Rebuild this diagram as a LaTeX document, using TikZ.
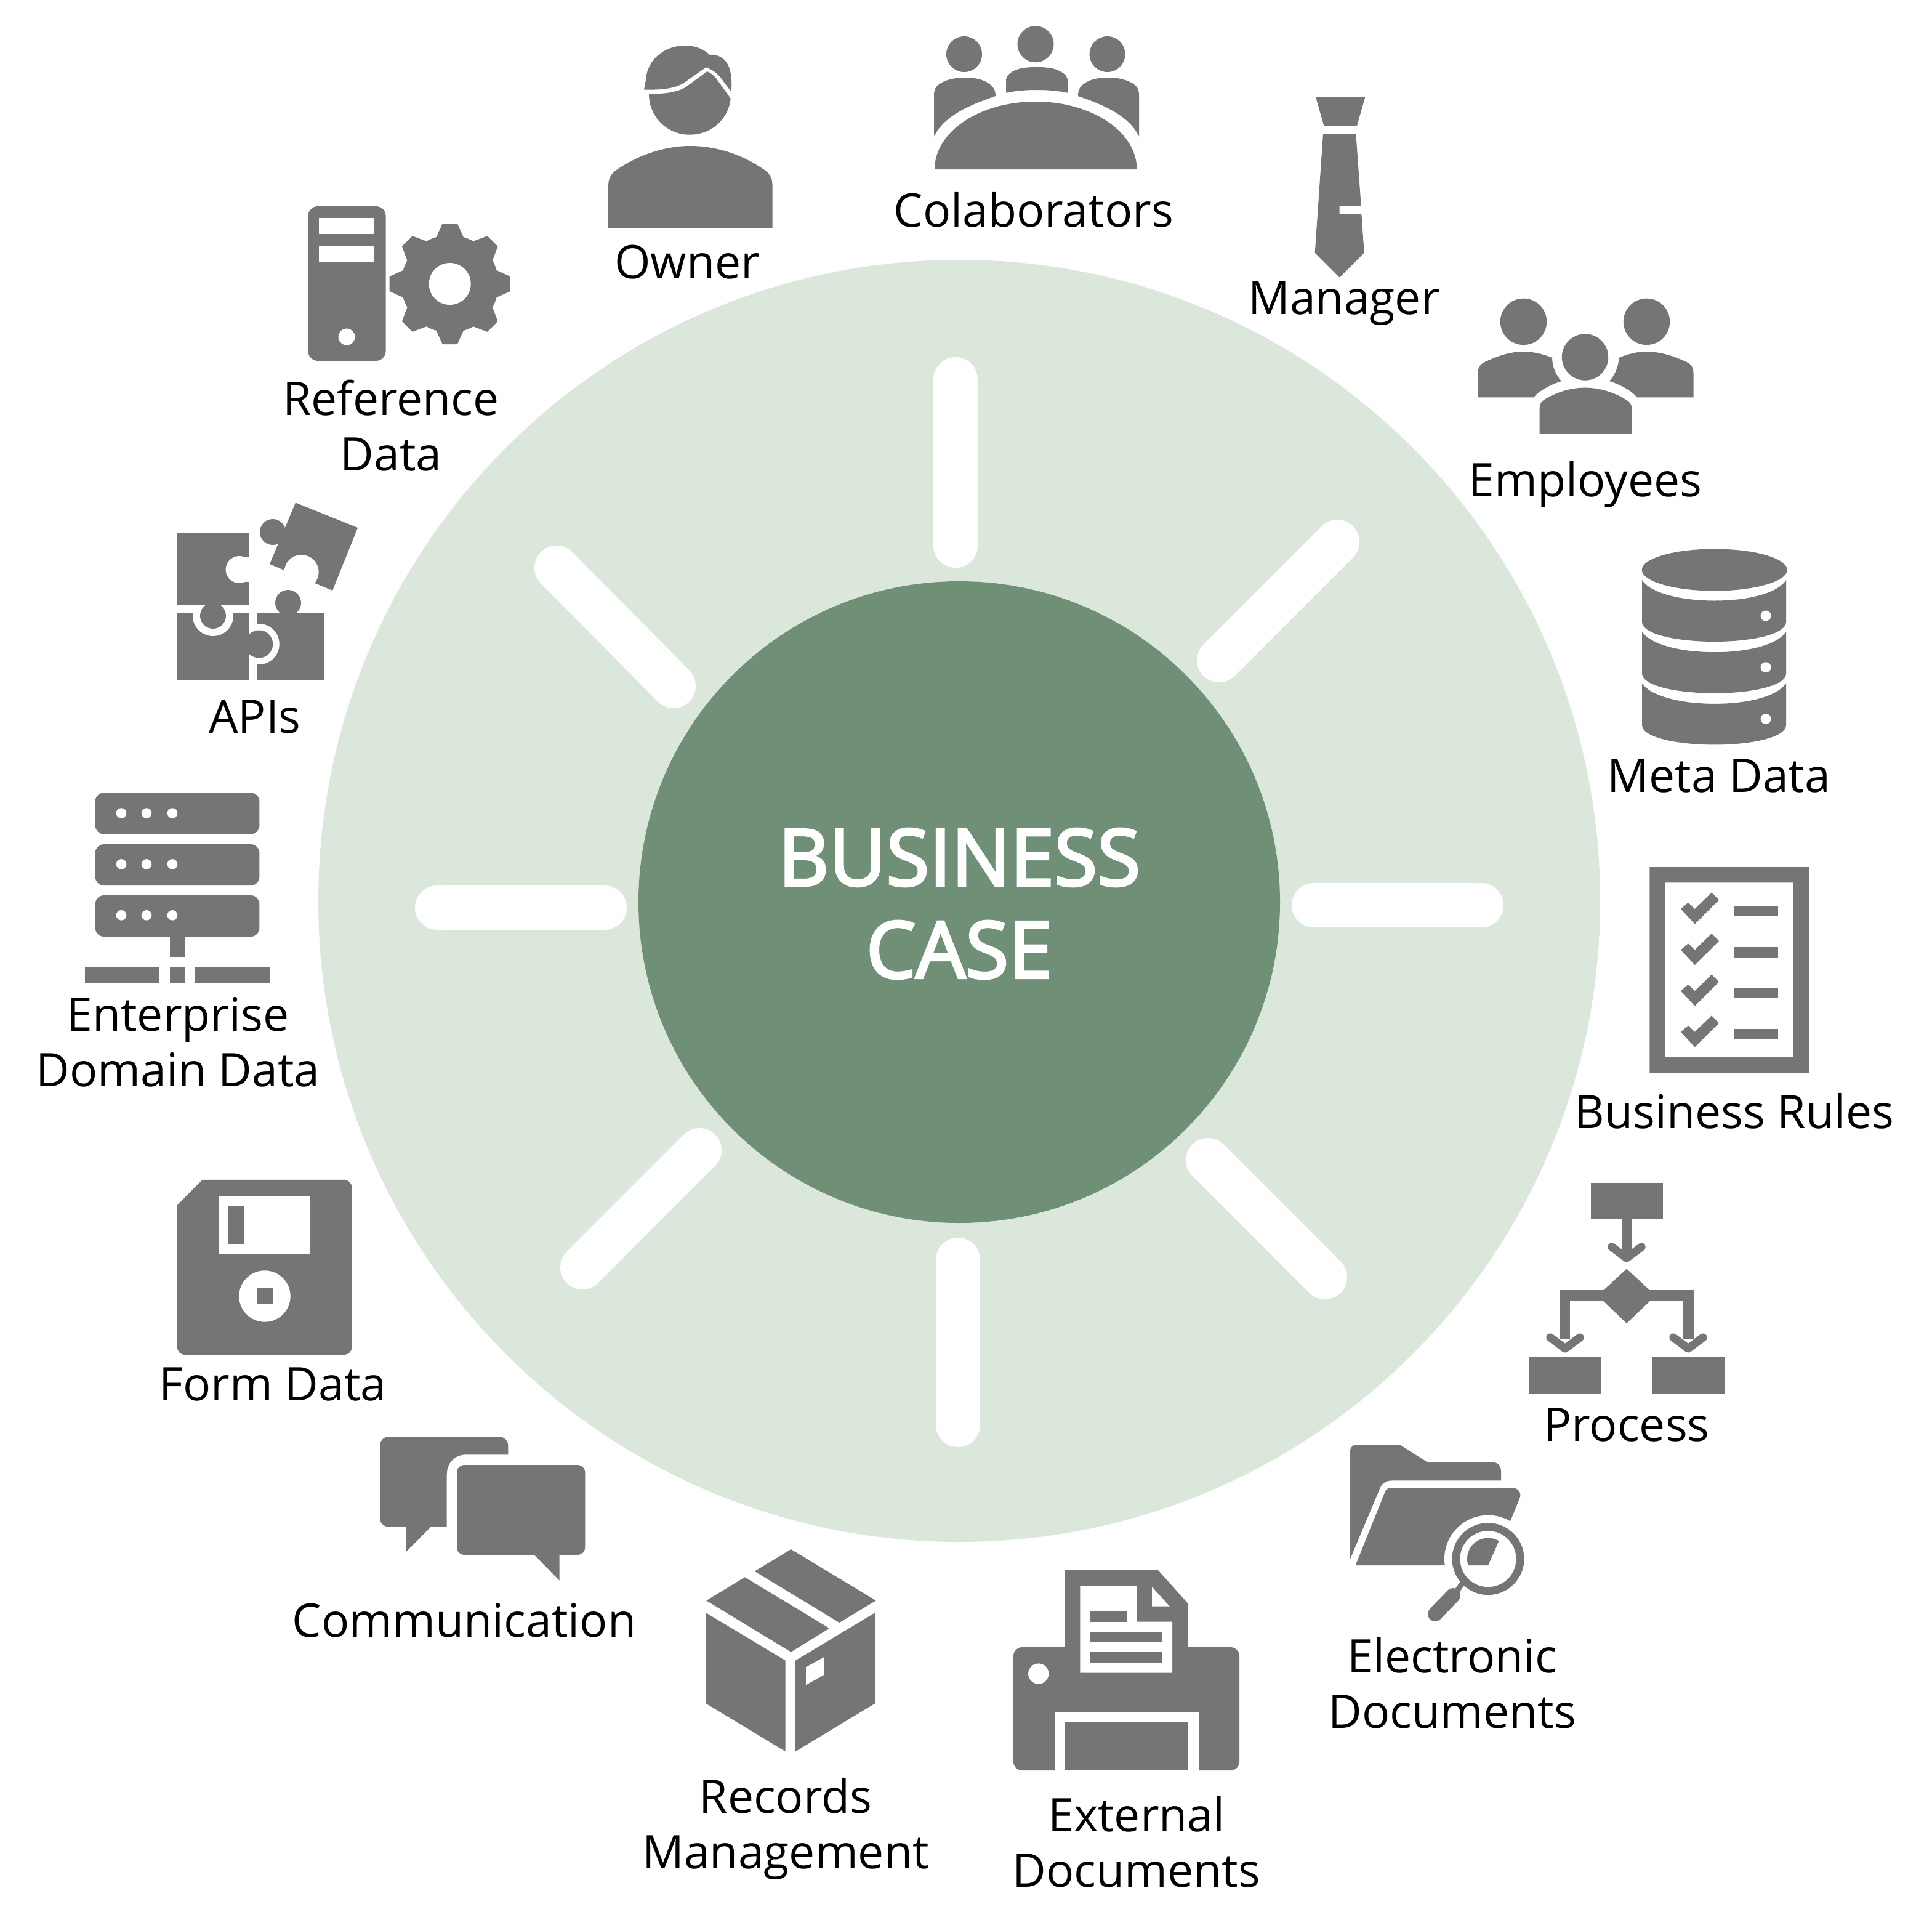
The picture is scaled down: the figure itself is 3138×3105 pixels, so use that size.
\documentclass[tikz,border=0pt]{standalone}
\usepackage{fontspec}
\setmainfont{Open Sans}
\newfontfamily\titlefont[FakeBold=3.2]{Open Sans}
\definecolor{ringc}{HTML}{DCE7DC}
\definecolor{corec}{HTML}{6F8F77}
\definecolor{iconc}{HTML}{757575}
\newcommand{\twolines}[2]{\begin{tabular}[t]{@{}c@{}}#1\\#2\end{tabular}}
\tikzset{
  lab/.style={anchor=base,inner sep=0pt,text=black,font=\fontsize{18.78}{22.5}\selectfont},
  titletext/.style={anchor=base,inner sep=0pt,text=white,font=\titlefont\fontsize{31.9}{37.5}\selectfont},
  ico/.style={fill=iconc,draw=none},
  gap/.style={fill=white,draw=none},
  spoke/.style={draw=white,line width=18pt,line cap=round},
  arrowstem/.style={draw=iconc,line width=3.3pt,line cap=round,line join=round},
  rc/.style={rounded corners=3.5pt}
}
\begin{document}
\begin{tikzpicture}[x=0.25pt,y=-0.25pt]
\useasboundingbox (0,0) rectangle (3138,3105);
\fill[white] (0,0) rectangle (3138,3105);
% rings
\fill[ringc] (1558,1463) circle (1041);
\foreach \a/\b/\c/\d in {1552/616/1552/886, 2172/880/1980/1072, 2134/1470/2406/1470, 1962/1884/2152/2074, 1556/2046/1556/2314, 1136/1868/946/2058, 710/1474/982/1474, 904/922/1094/1114}
  \draw[spoke] (\a,\b) -- (\c,\d);
\fill[corec] (1558,1465) circle (521);
\node[titletext] (t1) at (1558,1438) {BUSINESS};
\node[titletext] (t2) at (1558,1588) {CASE};
% Owner
\fill[ico] (988,370.7) -- (988,303) .. controls (988,290) and (992,283) .. (1000,277) .. controls (1035,252) and (1080,237) .. (1121,237) .. controls (1165,237) and (1208,252) .. (1243,277) .. controls (1251,283) and (1254.7,290) .. (1254.7,303) -- (1254.7,370.7) -- cycle;
\fill[ico] (1054,152.7) .. controls (1085,152.7) and (1103,148) .. (1113,142) -- (1148.7,116) .. controls (1158,120) and (1164,128) .. (1168,134) -- (1186.7,160) .. controls (1183,194) and (1155,218.7) .. (1120,218.7) .. controls (1083,218.7) and (1054,189) .. (1054,152.7) -- cycle;
\fill[ico] (1046,145.7) -- (1049,130) .. controls (1051,96) and (1080,74) .. (1113,74) .. controls (1130,74) and (1143,80) .. (1152.7,89) .. controls (1170,87) and (1182,100) .. (1185,112) .. controls (1188,122) and (1189,135) .. (1187.7,149) -- (1172,128) .. controls (1165,118) and (1155,112) .. (1146.7,109.3) -- (1110,135) .. controls (1095,144) and (1075,146) .. (1046,145.7) -- cycle;
\node[lab] (owner) at (1116,452) {Owner};
% Colaborators
\fill[ico] (1518,275) .. controls (1518,214) and (1591,165) .. (1682,165) .. controls (1773,165) and (1846.5,214) .. (1846.5,275) -- cycle;
\fill[ico] (1566,88) circle (29) (1682,71.7) circle (29.5) (1798.6,88) circle (29);
\fill[ico] (1517,221.7) -- (1517,155) .. controls (1517,145) and (1520,140) .. (1528,135) .. controls (1540,128) and (1555,126) .. (1567,126) .. controls (1580,126) and (1595,128) .. (1605,135) .. controls (1614,141) and (1617,147) .. (1617,156) .. controls (1570,172) and (1532,190) .. cycle;
\fill[ico] (1850,221.7) -- (1850,155) .. controls (1850,145) and (1847,140) .. (1839,135) .. controls (1827,128) and (1812,126) .. (1800,126) .. controls (1787,126) and (1772,128) .. (1762,135) .. controls (1753,141) and (1751,147) .. (1751,156) .. controls (1798,172) and (1835,190) .. cycle;
\fill[ico] (1634,150.7) -- (1634,132) .. controls (1634,124) and (1638,120) .. (1645,116) .. controls (1655,110) and (1670,109) .. (1684,109) .. controls (1698,109) and (1712,110) .. (1722,116) .. controls (1730,120) and (1734,124) .. (1734,132) -- (1734,150.7) .. controls (1715,147) and (1700,146) .. (1684,146) .. controls (1668,146) and (1652,147) .. cycle;
\node[lab] (colab) at (1679,368) {Colaborators};
% Manager
\fill[ico] (2137,157.3) -- (2217.3,157.3) -- (2204,204.3) -- (2150.3,204.3) -- cycle;
\fill[ico] (2149,217.3) -- (2202.3,217.3) -- (2210.7,334) -- (2175.7,334) -- (2175.7,347.3) -- (2211.3,347.3) -- (2215.7,410.7) -- (2175.7,450.7) -- (2135.7,410.7) -- cycle;
\node[lab] (manager) at (2183,510) {Manager};
% Employees
\fill[ico] (2474.5,522.4) circle (37.7) (2674.5,522.4) circle (37.7) (2574.5,580) circle (37.7);
\fill[ico] (2400.5,645.4) -- (2400.5,605.6) .. controls (2400.5,597) and (2404,592) .. (2410,588.8) .. controls (2430,579) and (2452,571) .. (2474.5,571) .. controls (2490,571) and (2506,575) .. (2521,581) .. controls (2521,595) and (2527,609) .. (2536,619) .. controls (2520,624) and (2500,634) .. (2491,645.4) -- cycle;
\fill[ico] (2750.5,645.4) -- (2750.5,605.6) .. controls (2750.5,597) and (2747,592) .. (2741,588.8) .. controls (2721,579) and (2697,571) .. (2674.5,571) .. controls (2659,571) and (2644,575) .. (2629.6,581) .. controls (2629,595) and (2623,609) .. (2614,619) .. controls (2630,624) and (2650,634) .. (2659,645.4) -- cycle;
\fill[ico] (2500.5,704) -- (2500.5,664) .. controls (2500.5,657) and (2503,653) .. (2507,650) .. controls (2525,638) and (2550,629.6) .. (2574.5,629.6) .. controls (2599,629.6) and (2624,638) .. (2642,650) .. controls (2647,653) and (2650.5,657) .. (2650.5,664) -- (2650.5,704) -- cycle;
\node[lab] (employees) at (2575,806) {Employees};
% Meta Data
\fill[ico] (2784.7,925.5) ellipse [x radius=118, y radius=34];
\foreach \o in {0,83.7,167.4} {
  \fill[ico] (2667,942+\o) .. controls (2680,963+\o) and (2730,975.5+\o) .. (2784.7,975.5+\o) .. controls (2840,975.5+\o) and (2888,963+\o) .. (2901,942+\o) -- (2901,1010+\o) .. controls (2901,1030+\o) and (2845,1042+\o) .. (2784.7,1042+\o) .. controls (2724,1042+\o) and (2667,1030+\o) .. (2667,1010+\o) -- cycle;
  \fill[white] (2868,1000+\o) circle (8.5);
}
\node[lab] (meta) at (2792,1286) {Meta Data};
% Business Rules
\fill[ico,even odd rule] (2679.3,1408) rectangle (2938,1742) (2704.7,1433.4) rectangle (2913,1717);
\foreach \o in {0,66.6,133.2,199.8} {
  \fill[ico] (2730,1476+\o) -- (2742,1465.7+\o) -- (2752.7,1476+\o) -- (2780,1449.5+\o) -- (2792,1461.5+\o) -- (2752.7,1500.5+\o) -- cycle;
  \fill[ico] (2816.7,1471+\o) rectangle (2888,1488+\o);
}
\node[lab] (rules) at (2817,1832) {Business Rules};
% Process
\fill[ico] (2583.7,1920.8) rectangle (2700.7,1979.5);
\fill[ico] (2634,1979.5) rectangle (2650.7,2035);
\draw[arrowstem] (2618,2025) -- (2642,2043) -- (2666,2025);
\fill[ico] (2642,2060.5) -- (2689,2104) -- (2642,2149) -- (2595,2104) -- cycle;
\fill[ico] (2533.7,2095.3) rectangle (2750.7,2112.6);
\fill[ico] (2533.7,2095.3) rectangle (2550.3,2175);
\fill[ico] (2734,2095.3) rectangle (2750.7,2175);
\draw[arrowstem] (2518,2172) -- (2542,2190) -- (2566,2172);
\draw[arrowstem] (2718,2172) -- (2742,2190) -- (2766,2172);
\fill[ico] (2483.7,2204) rectangle (2600.3,2262.5);
\fill[ico] (2683.7,2204) rectangle (2800.7,2262.5);
\node[lab] (process) at (2642,2340) {Process};
% Electronic documents
\fill[ico] (2192,2534) -- (2192,2362) .. controls (2192,2352) and (2196,2346) .. (2204,2346) -- (2270,2346) .. controls (2274,2346) and (2276,2347) .. (2278,2349) -- (2318.7,2374.8) -- (2424,2374.8) .. controls (2433,2374.8) and (2438,2380) .. (2438,2390) -- (2438,2404.4) -- (2260,2404.4) .. controls (2250,2404.4) and (2243,2410) .. (2240,2420) -- cycle;
\fill[ico] (2201.6,2542) -- (2250,2421.7) .. controls (2252,2418) and (2255,2416) .. (2260,2416) -- (2455,2416) .. controls (2465,2416) and (2471,2423) .. (2469,2431) -- (2453.6,2469) -- (2417,2542) -- cycle;
\fill[white] (2417,2531.6) circle (71);
\fill[white] (2340,2542) rectangle (2490,2610);
\fill[ico] (2417,2531.6) circle (58.5);
\fill[white] (2417,2531.6) circle (45.5);
\begin{scope}
\clip (2417,2531.6) circle (34);
\fill[ico] (2383,2490) -- (2440,2490) -- (2417,2542) -- (2383,2542) -- cycle;
\end{scope}
\draw[iconc,line width=2.2pt] (2362,2590) -- (2376,2570);
\draw[iconc,line width=6pt,line cap=round] (2360,2591) -- (2331,2621);
\node[lab] (elec) at (2359,2716) {\twolines{Electronic}{Documents}};
% External documents
\fill[ico] (1729,2680) -- (1729,2550) -- (1881,2550) -- (1929.5,2604) -- (1929.5,2680) -- cycle;
\fill[ico,rc] (1646,2875) rectangle (2013,2675);
\fill[white] (1754.4,2575.3) -- (1846.3,2575.3) -- (1846.3,2633.7) -- (1904,2633.7) -- (1904,2716.6) -- (1754.4,2716.6) -- cycle;
\fill[white] (1871,2577) -- (1871,2608.6) -- (1899.7,2608.6) -- cycle;
\fill[ico] (1771,2616.7) rectangle (1830,2633.7);
\fill[ico] (1771,2650) rectangle (1888,2667);
\fill[ico] (1771,2683.3) rectangle (1888,2700.3);
\fill[white] (1686.7,2718) circle (16.6);
\fill[white] (1713,2779.5) rectangle (1946.7,2876);
\fill[ico] (1729,2796) rectangle (1929.5,2875);
\node[lab] (ext) at (1846,2974) {\twolines{External}{Documents}};
% Records management
\fill[ico] (1284.7,2516) -- (1422.7,2599.3) -- (1363.3,2635) -- (1225.7,2551.7) -- cycle;
\fill[ico] (1209.7,2561.3) -- (1347.3,2644.3) -- (1284.7,2682.7) -- (1147.3,2599.3) -- cycle;
\fill[ico] (1146,2618.7) -- (1275.7,2696.7) -- (1275.7,2844.3) -- (1146,2766) -- cycle;
\fill[ico] (1421.7,2618.7) -- (1292,2696.7) -- (1292,2844.3) -- (1421.7,2766) -- cycle;
\fill[white] (1309,2707.3) -- (1338,2691.3) -- (1338,2720) -- (1309,2736.3) -- cycle;
\node[lab] (records) at (1276,2944) {\twolines{Records}{Management}};
% Communication
\fill[ico,rc] (617,2333.3) -- (825.3,2333.3) [sharp corners] -- (825.3,2362.3) -- (756.7,2362.3) .. controls (738,2362.3) and (725.7,2376) .. (725.7,2395) -- (725.7,2479.3) -- (700,2479.3) -- (659,2520.7) -- (659,2479.3) [rounded corners=3.5pt] -- (617,2479.3) -- cycle;
\fill[ico] (755,2379) -- (937,2379) .. controls (945,2379) and (950.3,2384) .. (950.3,2392) -- (950.3,2512) .. controls (950.3,2520) and (945,2525) .. (937,2525) -- (908.7,2525) -- (908.7,2566.7) -- (867.7,2525) -- (755,2525) .. controls (747,2525) and (742,2520) .. (742,2512) -- (742,2392) .. controls (742,2384) and (747,2379) .. (755,2379) -- cycle;
\node[lab] (comm) at (754,2658) {Communication};
% Form data
\fill[ico] (288,1957) -- (328.7,1915.8) -- (558,1915.8) .. controls (566,1915.8) and (571.5,1921) .. (571.5,1929) -- (571.5,2187) .. controls (571.5,2195) and (566,2200) .. (558,2200) -- (301,2200) .. controls (293,2200) and (288,2195) .. (288,2187) -- cycle;
\fill[white] (354.7,1942.4) rectangle (504.3,2037);
\fill[ico] (371,1958) rectangle (397,2021);
\fill[white] (430,2105) circle (41.7);
\fill[ico] (417,2091.6) rectangle (442.5,2117);
\node[lab] (form) at (443,2274) {Form Data};
% Enterprise domain data
\foreach \t/\b/\d in {1287.3/1354.5/1320.5, 1371/1438/1403.4, 1454/1521/1486.3} {
  \fill[ico,rc] (154.7,\t) rectangle (421.4,\b);
  \fill[white] (197,\d) circle (8.3) (238,\d) circle (8.3) (280,\d) circle (8.3);
}
\fill[ico] (275.6,1521) rectangle (300.5,1554.3);
\fill[ico] (275.6,1571) rectangle (300.5,1595.8);
\fill[ico] (138,1571) rectangle (258.8,1595.8);
\fill[ico] (316.7,1571) rectangle (438,1595.8);
\node[lab] (ent) at (289,1674) {\twolines{Enterprise}{Domain Data}};
% APIs
\fill[ico] (480,816.5) -- (581,857) -- (540,959) -- (438,916) -- cycle;
\fill[ico] (443,864) circle (21);
\fill[ico] (443,864) -- (470,855) -- (455,885) -- cycle;
\fill[white] (489.6,929) circle (28);
\fill[ico] (417,995.4) rectangle (525.6,1104);
\fill[white] (420.7,1046) circle (33);
\fill[white] (400,1000) rectangle (417,1104);
\fill[ico] (288,995.4) rectangle (404.7,1104);
\fill[white] (346,1000) circle (33);
\fill[ico] (288,866.4) rectangle (404.7,983);
\fill[white] (388.6,925) circle (22);
\fill[white] (395,905) rectangle (410,945);
\fill[ico] (346,1000) circle (21);
\fill[ico] (333,980) rectangle (359,1000);
\fill[ico] (420.7,1046) circle (22.5);
\fill[ico] (400,1036) rectangle (420,1056);
\fill[ico] (468,979) circle (21);
\fill[ico] (456,985) rectangle (480,996);
\node[lab] (apis) at (414,1190) {APIs};
% Reference data
\fill[ico,rounded corners=4pt] (500.3,335) rectangle (626.6,586);
\fill[white] (518,354) rectangle (607.5,380);
\fill[white] (518,398.6) rectangle (607.5,425);
\fill[white] (563,547) circle (13.5);
\begin{scope}[shift={(730.7,461)}]
\fill[ico] (0,0) circle (79);
\foreach \k in {0,45,...,315}
  \fill[ico,rotate=\k] (-22,-76) -- (-12,-98) -- (12,-98) -- (22,-76) -- cycle;
\fill[white] (0,0) circle (34);
\end{scope}
\node[lab] (ref) at (635,674) {\twolines{Reference}{Data}};
\end{tikzpicture}
\end{document}
